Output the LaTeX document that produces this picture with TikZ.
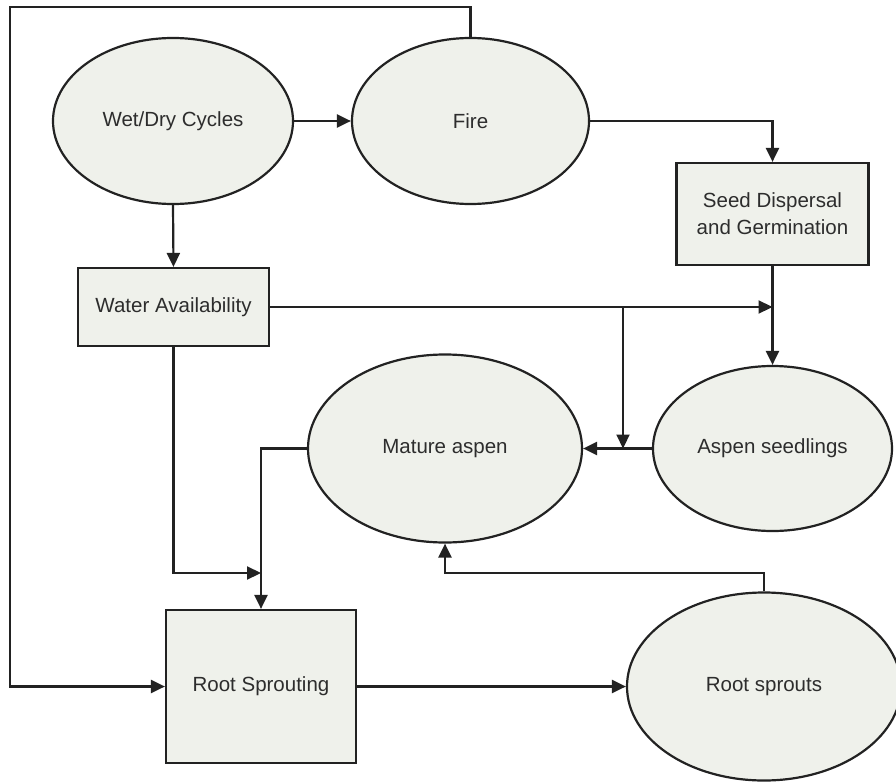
\documentclass[tikz,border=0pt]{standalone}
\usepackage{fontspec}
\setmainfont{Liberation Sans}
\usetikzlibrary{arrows.meta,shapes.geometric}
\definecolor{nodefill}{RGB}{239,241,235}
\definecolor{ink}{RGB}{34,34,34}
\definecolor{txt}{RGB}{45,45,45}
\tikzset{
  base/.style={draw=ink, fill=nodefill, line width=2.2bp, inner sep=0pt, text=txt,
    font=\fontsize{20.5bp}{27bp}\selectfont, align=center},
  oval/.style={base, ellipse},
  box/.style={base, rectangle},
  conn/.style={draw=ink, line width=2.2bp},
  arr/.style={conn, -{Triangle[length=14bp,width=13bp]}}
}
\begin{document}
\begin{tikzpicture}[x=1bp,y=-1bp]
\useasboundingbox (0,0) rectangle (896,782);
\clip (0,0) rectangle (896,782);
% nodes
\node[oval, minimum width=240bp, minimum height=166bp] (wd) at (173,121) {Wet/Dry Cycles};
\node[oval, minimum width=237bp, minimum height=166bp] (fire) at (470.5,121) {Fire};
\node[box, minimum width=192bp, minimum height=102bp] (seed) at (772.5,214) {Seed Dispersal\\and Germination};
\node[box, minimum width=191bp, minimum height=78bp] (wa) at (173.5,307) {Water Availability};
\node[oval, minimum width=274bp, minimum height=188bp] (ma) at (445,448.5) {Mature aspen};
\node[oval, minimum width=239bp, minimum height=165bp] (as) at (772.5,448.5) {Aspen seedlings};
\node[box, minimum width=190bp, minimum height=153bp] (rs) at (261,686.5) {Root Sprouting};
\node[oval, minimum width=274bp, minimum height=188bp] (rsp) at (764,686.5) {Root sprouts};
% helper coordinates
\coordinate (tl) at (10,7);
\coordinate (br) at (623,307);
\coordinate (low) at (0,573);
% connectors
\draw[arr] (wd.east) -- (fire.west);
\draw[arr] (fire.north) |- (tl) |- (rs.west);
\draw[arr] (fire.east) -| (seed.north);
\draw[arr] (wd.south) -- (wa.north);
\draw[arr] (seed.south) -- (as.north);
\draw[arr] (wa.east) -- (wa.east -| seed.south);
\draw[arr] (br) -- (br |- as.west);
\draw[arr] (as.west) -- (ma.east);
\draw[arr] (ma.west) -| (rs.north);
\draw[arr] (wa.south) |- (rs.north |- low);
\draw[arr] (rs.east) -- (rsp.west);
\draw[arr] (rsp.north) |- (ma.south |- low) -- (ma.south);
\end{tikzpicture}
\end{document}
